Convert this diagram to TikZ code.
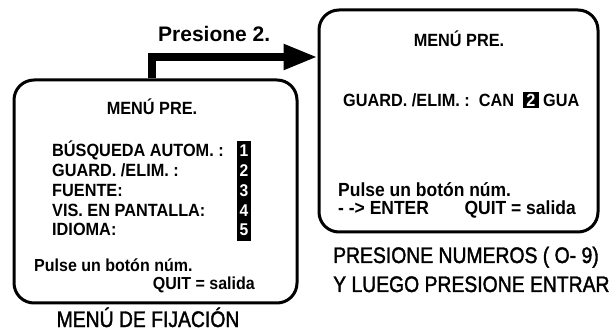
\documentclass[tikz,border=0pt]{standalone}
\usepackage{fontspec}
\setmainfont{Liberation Sans}
\newfontfamily\boxfont[FakeStretch=0.92]{Liberation Sans}
\newfontfamily\capfont[FakeStretch=0.86,FakeBold=1.6]{Liberation Sans}
\usetikzlibrary{arrows.meta}
\begin{document}
\begin{tikzpicture}[x=1pt,y=-1pt,
  screen/.style={draw,line width=3pt,rounded corners=20pt,inner sep=0pt},
  ltxt/.style={inner sep=0pt,font=\boxfont\bfseries\fontsize{17.7}{17.7}\selectfont},
  lsm/.style={inner sep=0pt,font=\boxfont\bfseries\fontsize{17.4}{17.4}\selectfont},
  rtxt/.style={inner sep=0pt,font=\boxfont\bfseries\fontsize{17.7}{17.7}\selectfont},
  rlow/.style={inner sep=0pt,font=\boxfont\bfseries\fontsize{19}{19}\selectfont},
  numtxt/.style={inner sep=0pt,text=white,font=\boxfont\bfseries\fontsize{17}{17}\selectfont},
  captxt/.style={inner sep=0pt,text depth=0pt,font=\capfont\fontsize{22.5}{22.5}\selectfont},
  conn/.style={line width=8pt,-{Triangle[length=34pt,width=24pt]}}]
\useasboundingbox (0,0) rectangle (611,331);
% screens
\node[screen,minimum width=283pt,minimum height=223pt] (L) at (155.5,191.5) {};
\node[screen,minimum width=279pt,minimum height=222pt] (R) at (458.5,121) {};
% connector
\coordinate (sx) at (152,0);
\coordinate (ty) at (0,57);
\draw[conn] (L.north -| sx) |- (R.west |- ty);
\node[inner sep=0pt,anchor=base west,font=\bfseries\fontsize{21}{21}\selectfont] (p2) at (158,42) {Presione 2.};
% left screen
\node[ltxt,anchor=base] (lt) at (152,115) {MENÚ PRE.};
\node[ltxt,anchor=base west] (l1) at (52,157) {BÚSQUEDA AUTOM. :};
\node[ltxt,anchor=base west] (l2) at (52,177) {GUARD. /ELIM. :};
\node[ltxt,anchor=base west] (l3) at (52,197) {FUENTE:};
\node[ltxt,anchor=base west] (l4) at (52,216.5) {VIS. EN PANTALLA:};
\node[ltxt,anchor=base west] (l5) at (52,236) {IDIOMA:};
\fill[black] (237,141) rectangle (251,241);
\node[numtxt,anchor=base] (n1) at (244,157) {1};
\node[numtxt,anchor=base] (n2) at (244,177) {2};
\node[numtxt,anchor=base] (n3) at (244,197) {3};
\node[numtxt,anchor=base] (n4) at (244,216.5) {4};
\node[numtxt,anchor=base] (n5) at (244,236) {5};
\node[lsm,anchor=base west] (lp) at (34,272) {Pulse un botón núm.};
\node[lsm,anchor=base east] (lq) at (255,290) {QUIT = salida};
% right screen
\node[rtxt,anchor=base] (rt) at (459,47) {MENÚ PRE.};
\node[rtxt,anchor=base west] (rg) at (343,107) {GUARD. /ELIM. :\ \ CAN};
\fill[black] (523,92) rectangle (539,108);
\node[rtxt,anchor=base,text=white] (r2) at (531,107) {2};
\node[rtxt,anchor=base west] (rgu) at (543,107) {GUA};
\node[rlow,anchor=base west] (rp) at (338,197) {Pulse un botón núm.};
\node[rlow,anchor=base west] (re) at (338,215) {- -> ENTER};
\node[rlow,anchor=base east] (rq) at (576,215) {QUIT = salida};
% captions
\node[captxt,anchor=base] (c1) at (148,327) {MENÚ DE FIJACIÓN};
\node[captxt,anchor=base west] (c2) at (333,263) {PRESIONE NUMEROS ( O- 9)};
\node[captxt,anchor=base west] (c3) at (333,292) {Y LUEGO PRESIONE ENTRAR};
\end{tikzpicture}
\end{document}
